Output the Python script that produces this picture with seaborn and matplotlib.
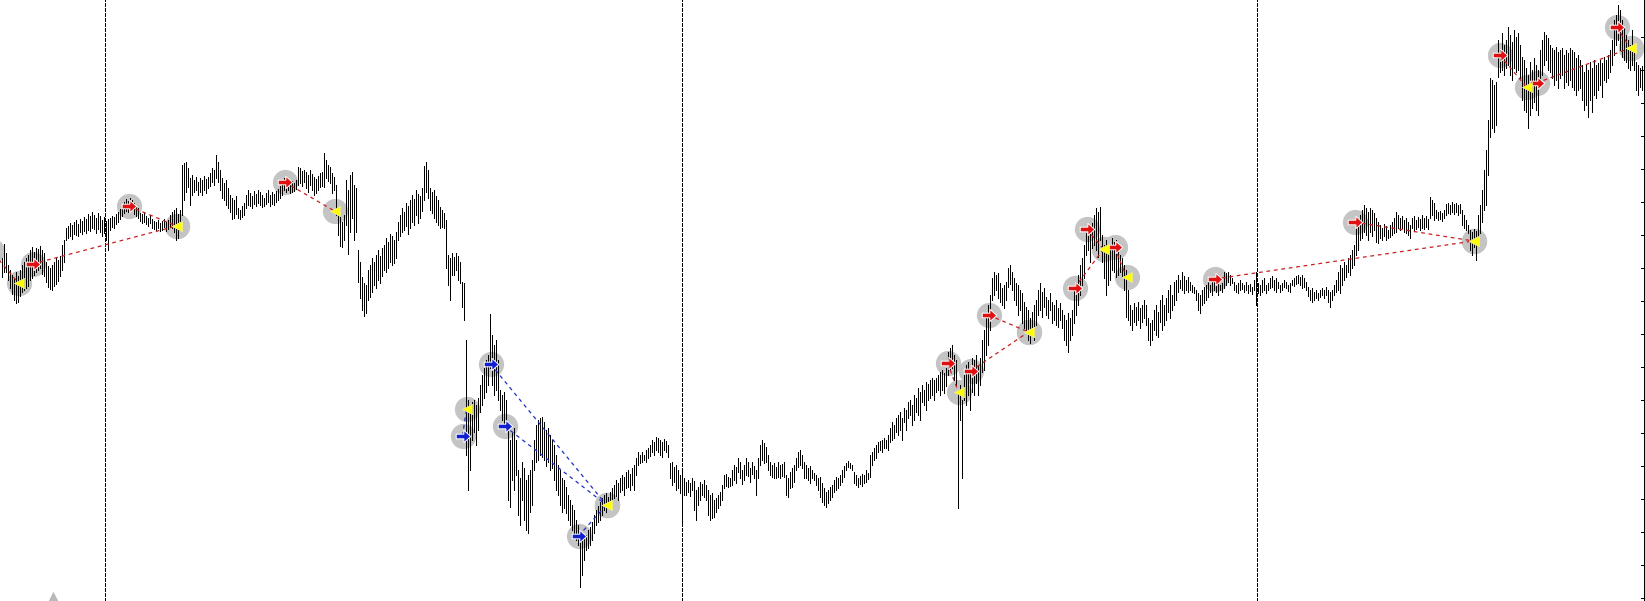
import matplotlib
matplotlib.use("Agg")
import matplotlib.pyplot as plt
from matplotlib.path import Path
import numpy as np
import pandas as pd
import seaborn as sns

# M5 bars (high / low), given as rows counted down from the top of the chart window
bar_hi = [
    258, 244, 253, 265, 270, 275, 278, 272, 276, 270,
    265, 262, 258, 255, 250, 247, 252, 248, 249, 246,
    250, 253, 262, 266, 268, 265, 262, 258, 260, 256,
    245, 240, 228, 226, 223, 225, 222, 220, 224, 219,
    221, 217, 219, 214, 216, 212, 215, 218, 213, 216,
    220, 217, 221, 219, 218, 216, 217, 214, 212, 209,
    205, 202, 199, 201, 198, 200, 203, 206, 208, 213,
    214, 212, 216, 218, 215, 219, 221, 222, 220, 223,
    221, 219, 222, 220, 215, 212, 210, 208, 214, 210,
    165, 163, 162, 168, 178, 175, 180, 177, 182, 178,
    180, 176, 179, 177, 173, 168, 170, 155, 162, 170,
    178, 183, 180, 188, 195, 198, 200, 196, 208, 210,
    206, 203, 195, 190, 193, 196, 191, 194, 190, 192,
    195, 198, 193, 190, 195, 192, 194, 191, 189, 186,
    183, 178, 180, 182, 184, 181, 183, 180, 167, 168,
    171, 170, 172, 175, 170, 174, 177, 179, 176, 173,
    172, 153, 160, 165, 167, 173, 177, 185, 210, 216,
    222, 215, 180, 190, 175, 172, 185, 188, 250, 262,
    277, 283, 285, 270, 265, 258, 262, 255, 250, 256,
    248, 245, 238, 242, 234, 236, 240, 232, 222, 215,
    208, 212, 203, 206, 200, 195, 199, 190, 194, 196,
    188, 166, 162, 170, 188, 192, 190, 196, 200, 207,
    210, 213, 220, 255, 258, 253, 257, 253, 256, 262,
    282, 283, 340, 400, 405, 402, 400, 405, 398, 385,
    375, 368, 360, 355, 314, 335, 345, 340, 360, 390,
    395, 392, 400, 427, 440, 433, 428, 440, 470, 478,
    462, 468, 480, 475, 470, 460, 440, 425, 420, 418,
    417, 422, 430, 428, 435, 440, 445, 455, 465, 470,
    478, 480, 487, 495, 500, 505, 510, 520, 525, 533,
    540, 538, 535, 530, 527, 522, 515, 510, 506, 502,
    498, 495, 493, 497, 492, 488, 485, 480, 483, 478,
    475, 477, 472, 470, 474, 468, 465, 458, 452, 455,
    452, 455, 450, 448, 445, 440, 442, 437, 438, 440,
    442, 439, 441, 445, 463, 462, 467, 465, 470, 475,
    472, 478, 482, 480, 483, 478, 481, 490, 487, 482,
    484, 480, 485, 490, 495, 493, 500, 498, 495, 492,
    485, 475, 474, 477, 478, 470, 465, 467, 458, 462,
    470, 465, 458, 462, 468, 462, 466, 470, 458, 445,
    440, 443, 447, 455, 462, 465, 463, 467, 462, 465,
    464, 462, 475, 478, 472, 468, 465, 458, 452, 450,
    455, 462, 465, 468, 466, 470, 473, 475, 478, 477,
    483, 488, 492, 490, 487, 485, 480, 477, 478, 475,
    470, 466, 463, 461, 463, 465, 472, 475, 478, 476,
    474, 475, 470, 473, 455, 452, 448, 445, 442, 441,
    440, 438, 440, 435, 428, 422, 425, 418, 415, 412,
    418, 408, 410, 402, 400, 405, 395, 398, 388, 392,
    385, 390, 382, 384, 380, 378, 380, 378, 375, 372,
    370, 373, 368, 352, 348, 345, 355, 360, 390, 385,
    400, 375, 365, 362, 370, 358, 360, 355, 365, 358,
    340, 330, 318, 305, 295, 278, 272, 275, 273, 283,
    288, 285, 282, 268, 265, 272, 278, 283, 285, 290,
    293, 302, 307, 310, 318, 312, 305, 300, 290, 283,
    292, 288, 297, 300, 293, 302, 305, 300, 308, 303,
    310, 315, 320, 313, 318, 310, 290, 282, 275, 265,
    258, 245, 233, 228, 225, 223, 215, 208, 212, 207,
    235, 245, 240, 250, 245, 238, 242, 240, 250, 255,
    258, 265, 270, 290, 305, 310, 303, 307, 302, 308,
    305, 300, 305, 318, 323, 320, 310, 305, 312, 300,
    295, 305, 298, 290, 285, 295, 282, 280, 275, 280,
    272, 276, 280, 277, 282, 285, 287, 290, 293, 295,
    290, 287, 285, 282, 285, 280, 278, 282, 280, 285,
    283, 272, 273, 272, 275, 278, 282, 285, 283, 280,
    283, 285, 282, 285, 284, 287, 280, 272, 283, 285,
    280, 278, 285, 283, 278, 276, 280, 278, 282, 285,
    283, 280, 282, 285, 283, 280, 278, 276, 275, 277,
    275, 278, 282, 287, 290, 288, 292, 290, 293, 290,
    288, 290, 287, 290, 292, 290, 285, 280, 272, 265,
    268, 262, 265, 258, 255, 250, 245, 225, 218, 215,
    210, 205, 208, 212, 208, 210, 213, 218, 222, 225,
    228, 224, 226, 230, 225, 222, 218, 212, 215, 218,
    216, 220, 218, 222, 225, 218, 216, 220, 217, 219,
    215, 218, 216, 219, 197, 200, 203, 210, 212, 211,
    213, 210, 204, 203, 205, 202, 204, 203, 205, 204,
    210, 215, 220, 225, 230, 232, 229, 231, 215, 205,
    190, 170, 150, 120, 78, 80, 85, 82, 40, 50,
    33, 45, 40, 27, 35, 42, 30, 37, 33, 45,
    57, 60, 68, 75, 62, 70, 58, 65, 70, 50,
    40, 32, 35, 38, 45, 48, 50, 47, 52, 50,
    48, 55, 50, 53, 48, 50, 52, 58, 55, 60,
    65, 72, 65, 70, 62, 68, 60, 65, 63, 60,
    63, 57, 60, 55, 50, 40, 20, 15, 5, 10,
    20, 28, 35, 40, 45, 30, 50, 62, 65, 68,
    66,
]
bar_lo = [
    277, 272, 272, 280, 288, 294, 300, 303, 302, 296,
    292, 290, 288, 286, 280, 278, 275, 272, 270, 268,
    274, 276, 282, 287, 289, 290, 286, 284, 281, 276,
    270, 262, 240, 238, 236, 239, 234, 235, 236, 232,
    234, 231, 233, 230, 231, 228, 229, 233, 229, 232,
    236, 233, 240, 250, 230, 227, 228, 224, 222, 219,
    216, 213, 211, 212, 209, 210, 214, 216, 218, 221,
    223, 222, 224, 226, 223, 228, 229, 230, 228, 231,
    230, 227, 231, 229, 227, 228, 232, 240, 238, 230,
    215, 200, 192, 187, 205, 195, 192, 190, 195, 192,
    195, 190, 193, 188, 186, 182, 185, 178, 182, 190,
    198, 200, 205, 208, 212, 219, 218, 214, 218, 219,
    217, 215, 208, 205, 206, 208, 204, 206, 203, 205,
    207, 206, 204, 202, 206, 204, 205, 202, 200, 198,
    195, 190, 192, 190, 193, 192, 191, 189, 185, 183,
    186, 182, 188, 192, 185, 190, 195, 193, 190, 187,
    186, 187, 178, 181, 183, 193, 190, 215, 235, 246,
    247, 240, 225, 254, 232, 218, 240, 232, 282, 298,
    310, 316, 313, 300, 297, 292, 285, 288, 280, 283,
    276, 270, 272, 268, 262, 265, 263, 258, 240, 236,
    232, 230, 226, 234, 228, 222, 225, 215, 223, 218,
    211, 200, 192, 198, 210, 213, 218, 222, 225, 228,
    227, 228, 268, 285, 300, 275, 275, 270, 280, 283,
    307, 320, 455, 490, 470, 440, 432, 445, 430, 412,
    405, 398, 392, 385, 368, 385, 395, 390, 400, 410,
    420, 425, 427, 500, 507, 480, 490, 475, 515, 525,
    500, 520, 530, 533, 512, 505, 470, 462, 460, 455,
    457, 460, 466, 462, 470, 468, 480, 490, 495, 505,
    512, 508, 513, 520, 525, 530, 535, 540, 545, 587,
    575, 560, 550, 548, 545, 540, 533, 525, 522, 520,
    515, 510, 512, 508, 505, 500, 498, 496, 500, 492,
    490, 495, 488, 487, 490, 485, 490, 475, 465, 463,
    462, 460, 462, 458, 456, 452, 455, 450, 452, 455,
    457, 450, 452, 457, 478, 485, 482, 490, 488, 493,
    522, 495, 495, 492, 496, 490, 510, 520, 505, 500,
    495, 497, 500, 515, 520, 518, 517, 512, 508, 505,
    500, 488, 486, 487, 486, 485, 480, 483, 472, 478,
    484, 480, 475, 476, 482, 474, 478, 495, 478, 465,
    460, 463, 462, 470, 475, 477, 478, 478, 477, 478,
    476, 477, 495, 497, 488, 487, 482, 470, 467, 465,
    468, 478, 478, 480, 483, 478, 480, 485, 490, 497,
    502, 505, 507, 503, 500, 497, 492, 490, 488, 485,
    482, 477, 470, 467, 468, 470, 483, 485, 487, 484,
    486, 483, 482, 479, 477, 465, 460, 458, 452, 450,
    452, 448, 448, 450, 442, 440, 438, 432, 435, 430,
    440, 422, 430, 418, 415, 425, 420, 412, 415, 420,
    402, 405, 410, 400, 398, 395, 400, 392, 390, 395,
    390, 393, 386, 375, 370, 368, 380, 385, 508, 420,
    478, 400, 405, 395, 410, 392, 395, 383, 395, 385,
    372, 370, 355, 345, 330, 300, 295, 290, 298, 302,
    305, 308, 300, 287, 284, 290, 300, 305, 315, 310,
    323, 328, 333, 340, 343, 335, 340, 325, 315, 310,
    317, 307, 315, 318, 310, 323, 320, 325, 327, 320,
    328, 340, 345, 352, 340, 335, 323, 315, 305, 295,
    285, 278, 255, 250, 262, 248, 245, 250, 257, 240,
    262, 278, 295, 285, 280, 270, 272, 277, 275, 272,
    276, 290, 317, 320, 325, 330, 322, 325, 320, 328,
    322, 318, 325, 340, 345, 340, 330, 335, 337, 322,
    330, 325, 320, 312, 318, 310, 305, 300, 292, 288,
    290, 293, 290, 292, 290, 292, 293, 300, 310, 313,
    305, 303, 300, 297, 292, 295, 290, 292, 295, 290,
    292, 288, 285, 282, 285, 283, 290, 292, 293, 290,
    289, 292, 290, 293, 291, 294, 290, 305, 293, 295,
    292, 290, 293, 290, 288, 287, 290, 292, 288, 292,
    290, 287, 288, 291, 292, 285, 286, 284, 283, 285,
    288, 287, 290, 296, 300, 302, 300, 298, 300, 297,
    295, 298, 295, 302, 307, 300, 295, 292, 290, 293,
    285, 280, 277, 272, 275, 268, 265, 255, 250, 240,
    238, 232, 235, 240, 232, 236, 230, 242, 243, 238,
    240, 236, 240, 238, 237, 235, 233, 232, 228, 230,
    228, 232, 233, 235, 238, 228, 230, 229, 227, 230,
    228, 229, 227, 229, 218, 215, 220, 218, 220, 219,
    221, 218, 215, 213, 214, 212, 214, 212, 215, 213,
    225, 228, 230, 233, 250, 255, 247, 260, 240, 233,
    222, 210, 205, 175, 137, 128, 132, 125, 77, 72,
    70, 75, 68, 65, 75, 80, 68, 72, 70, 78,
    100, 110, 112, 128, 115, 108, 102, 110, 115, 85,
    75, 65, 60, 70, 72, 78, 85, 80, 88, 78,
    75, 88, 82, 85, 80, 87, 90, 95, 90, 88,
    100, 110, 105, 117, 100, 112, 95, 98, 90, 85,
    97, 80, 82, 78, 72, 65, 55, 45, 40, 50,
    57, 60, 62, 68, 70, 65, 70, 90, 95, 87,
    90,
]

# day separators (bar positions)
day_breaks = [51.5, 340, 627.5]

# closed trades: entry arrow -> exit triangle
trade_side = ["sell", "sell", "sell", "sell", "buy", "buy", "buy", "buy",
              "sell", "sell", "sell", "sell", "sell", "sell", "sell", "sell",
              "sell", "sell", "sell"]
entry_bar = [-5, 15.5, 63.5, 141.5, 230.5, 244.5, 251.5, 288.5,
             473, 484.5, 493.5, 536.5, 542.5, 556.5, 606.5, 676.5,
             749, 767.5, 807.5]
entry_price = [251, 264, 206, 182, 436, 364, 426, 536,
               363, 371, 315, 288, 229, 247, 279, 222,
               55, 83, 27]
exit_bar = [8.5, 87.5, 87.5, 166.5, 232.5, 302.5, 302.5, 302.5,
            478.5, 513.5, 513.5, 551, 551, 562.5, 736, 736,
            762.5, 814.5, 814.5]
exit_price = [283, 226, 226, 211, 409, 505, 505, 505,
              392, 332, 332, 249, 249, 277, 241, 241,
              87, 48, 48]

side_color = {"sell": "#e01010", "buy": "#1020d0"}
line_color = {"sell": "#c81e1e", "buy": "#2030c0"}

sns.set_theme(style="white")

fig = plt.figure(figsize=(16.45, 6.01), dpi=100)
ax = fig.add_axes([0, 0, 1, 1])
ax.set_xlim(-0.75, 821.75)
ax.set_ylim(601, 0)
ax.set_axis_off()

bars = pd.DataFrame({"bar": np.arange(len(bar_hi)), "hi": bar_hi, "lo": bar_lo})
trades = pd.DataFrame({
    "side": trade_side,
    "entry_bar": entry_bar, "entry_price": entry_price,
    "exit_bar": exit_bar, "exit_price": exit_price,
})

# period separators
for b in day_breaks:
    ax.axvline(b, color="black", lw=0.72, dashes=(3, 2), zorder=0, antialiased=False)

# grey halo behind every arrow
halo = pd.DataFrame({
    "bar": list(trades["entry_bar"]) + list(trades["exit_bar"]),
    "price": list(trades["entry_price"]) + list(trades["exit_price"]),
})
sns.scatterplot(data=halo, x="bar", y="price", s=330, color="#c4c4c4",
                linewidth=0, zorder=1, ax=ax, legend=False)

# price bars
ax.vlines(bars["bar"], bars["hi"], bars["lo"], colors="black",
          linewidth=0.72, antialiased=False, zorder=2)

# dashed links entry -> exit
for _, t in trades.iterrows():
    ax.plot([t["entry_bar"], t["exit_bar"]], [t["entry_price"], t["exit_price"]],
            color=line_color[t["side"]], lw=0.9, dashes=(3, 3), zorder=3)

arrow = Path([(-1, -0.32), (0.05, -0.32), (0.05, -0.85), (1, 0), (0.05, 0.85),
              (0.05, 0.32), (-1, 0.32), (-1, -0.32)],
             [Path.MOVETO] + [Path.LINETO] * 6 + [Path.CLOSEPOLY])

for side, grp in trades.groupby("side"):
    sns.scatterplot(data=grp, x="entry_bar", y="entry_price", marker=arrow, s=110,
                    color=side_color[side], edgecolor="white", linewidth=0.7,
                    zorder=4, ax=ax, legend=False)

sns.scatterplot(data=trades, x="exit_bar", y="exit_price", marker="<", s=55,
                color="#ffff00", edgecolor="#e8e8a0", linewidth=0.5,
                zorder=4, ax=ax, legend=False)

# chart shift marker at the bottom edge
ax.scatter([25.5], [597], marker="^", s=70, color="#b8b8b8", linewidth=0,
           zorder=4, clip_on=False)

# right price-scale border with ticks
ax.axvline(821, color="black", lw=0.72, zorder=5, antialiased=False)
for ty in np.arange(37, 601, 33):
    ax.plot([819.5, 821], [ty, ty], color="black", lw=0.72, zorder=5,
            antialiased=False)

ax.set_xlabel("")
ax.set_ylabel("")
fig.savefig("out.png", dpi=100)
